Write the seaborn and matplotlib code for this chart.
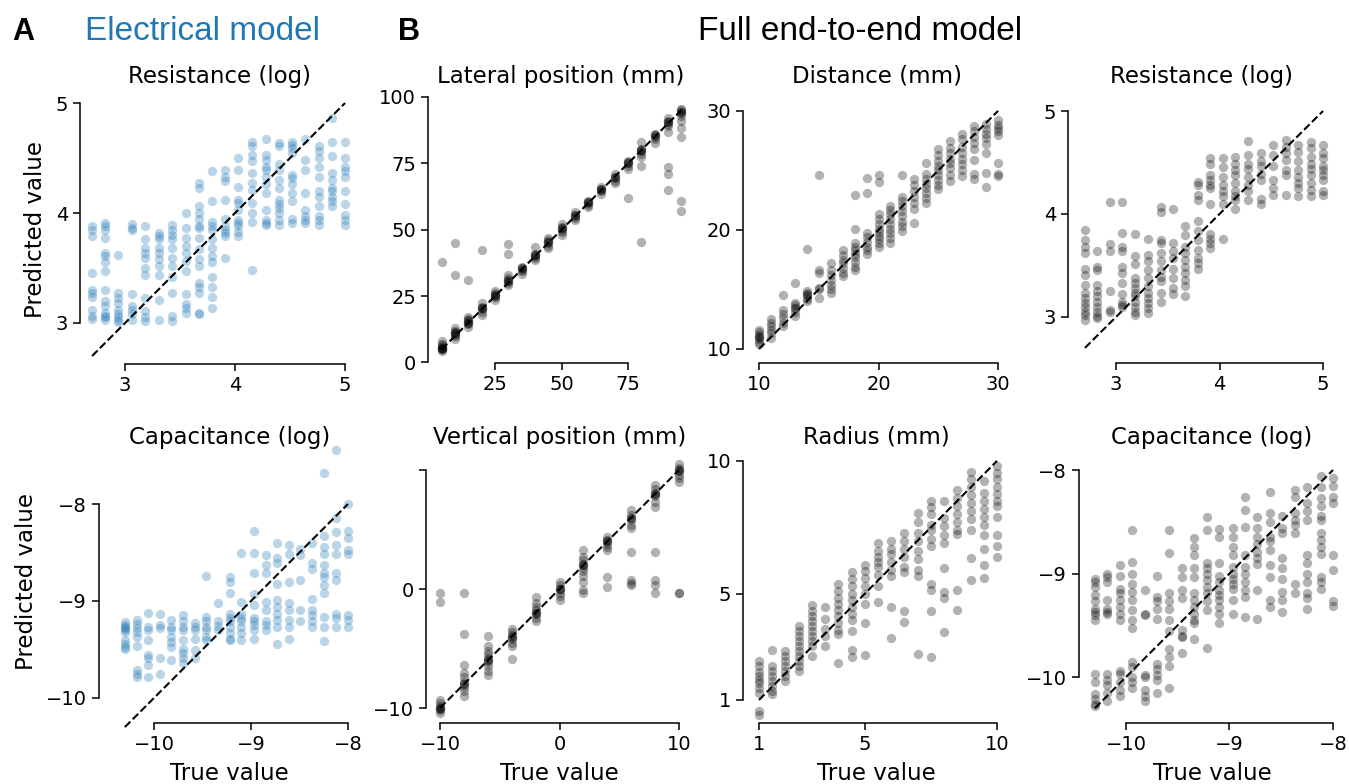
import pandas as pd
import matplotlib
matplotlib.use('Agg')
import matplotlib.pyplot as plt
import seaborn as sns

sns.set_theme(style='ticks')
plt.rcParams['font.family'] = ['DejaVu Sans']
plt.rcParams['text.color'] = 'black'
plt.rcParams['axes.labelcolor'] = 'black'
plt.rcParams['xtick.color'] = 'black'
plt.rcParams['ytick.color'] = 'black'

# ---- true values (columns of points) ----
res_true = [2.70, 2.82, 2.94, 3.06, 3.18, 3.31, 3.43, 3.55, 3.67, 3.79,
            3.91, 4.03, 4.15, 4.28, 4.40, 4.52, 4.64, 4.76, 4.88, 5.00]
cap_true = [-10.30, -10.18, -10.06, -9.94, -9.82, -9.70, -9.58, -9.46, -9.34, -9.22,
            -9.10, -8.97, -8.85, -8.73, -8.61, -8.49, -8.37, -8.25, -8.12, -8.00]
lat_true = [5, 10, 15, 20, 25, 30, 35, 40, 45, 50, 55, 60, 65, 70, 75, 80, 85, 90, 95]
dist_true = [10, 11, 12, 13, 14, 15, 16, 17, 18, 19, 20, 21, 22, 23, 24, 25, 26, 27, 28, 29, 30]
vert_true = [-10, -8, -6, -4, -2, 0, 2, 4, 6, 8, 10]
rad_true = [1, 1.5, 2, 2.5, 3, 3.5, 4, 4.5, 5, 5.5, 6, 6.5, 7, 7.5, 8, 8.5, 9, 9.5, 10]

# ---- A: electrical model predictions ----
res_elec = [
    [3.88, 3.85, 3.79, 3.45, 3.30, 3.27, 3.24, 3.12, 3.06, 3.04],
    [3.91, 3.88, 3.85, 3.77, 3.64, 3.61, 3.55, 3.47, 3.30, 3.20, 3.15, 3.09, 3.06, 3.05, 3.03],
    [3.62, 3.27, 3.23, 3.18, 3.12, 3.08, 3.05, 3.03, 3.01],
    [3.90, 3.86, 3.85, 3.26, 3.15, 3.12, 3.08, 3.03],
    [3.88, 3.76, 3.68, 3.64, 3.59, 3.50, 3.44, 3.23, 3.11, 3.05, 3.02],
    [3.82, 3.79, 3.76, 3.68, 3.64, 3.58, 3.52, 3.44, 3.21, 3.03],
    [3.89, 3.85, 3.80, 3.76, 3.68, 3.59, 3.52, 3.42, 3.27, 3.06, 3.02],
    [4.00, 3.86, 3.77, 3.70, 3.64, 3.56, 3.47, 3.26, 3.17, 3.14, 3.09],
    [4.27, 4.23, 4.06, 4.00, 3.95, 3.88, 3.86, 3.77, 3.67, 3.58, 3.52, 3.36, 3.33, 3.27, 3.09, 3.08],
    [4.38, 4.11, 3.92, 3.88, 3.85, 3.76, 3.68, 3.61, 3.55, 3.42, 3.33, 3.24, 3.14],
    [4.39, 4.33, 4.29, 4.12, 3.95, 3.88, 3.85, 3.82, 3.79, 3.59],
    [4.50, 4.39, 4.24, 4.12, 4.09, 4.03, 3.94, 3.91, 3.88, 3.83, 3.79],
    [4.65, 4.61, 4.53, 4.47, 4.36, 4.27, 4.21, 4.09, 4.00, 3.92, 3.48],
    [4.67, 4.53, 4.48, 4.42, 4.39, 4.33, 4.26, 4.18, 4.03, 3.94, 3.91, 3.89],
    [4.64, 4.61, 4.45, 4.39, 4.30, 4.23, 4.12, 4.08, 4.05, 4.00, 3.94, 3.89],
    [4.65, 4.62, 4.59, 4.55, 4.35, 4.32, 4.26, 4.18, 4.11, 3.95, 3.91],
    [4.67, 4.48, 4.39, 4.18, 4.03, 3.97, 3.94, 3.91],
    [4.61, 4.56, 4.50, 4.42, 4.33, 4.20, 4.15, 4.06, 3.97, 3.94, 3.89],
    [4.86, 4.65, 4.52, 4.36, 4.30, 4.23, 4.20, 4.15, 4.11, 4.06],
    [4.65, 4.50, 4.42, 4.38, 4.33, 4.20, 4.08, 3.98, 3.94, 3.89],
]
cap_elec = [
    [-9.22, -9.25, -9.27, -9.28, -9.30, -9.32, -9.40, -9.44, -9.47, -9.50],
    [-9.20, -9.24, -9.28, -9.32, -9.37, -9.46, -9.71, -9.75, -9.78],
    [-9.12, -9.27, -9.30, -9.40, -9.56, -9.59, -9.66, -9.78],
    [-9.13, -9.25, -9.28, -9.59, -9.75],
    [-9.20, -9.27, -9.30, -9.37, -9.42, -9.47, -9.61],
    [-9.14, -9.21, -9.27, -9.30, -9.40, -9.49, -9.54, -9.59, -9.64],
    [-9.23, -9.27, -9.30, -9.39, -9.51, -9.59],
    [-8.74, -9.16, -9.21, -9.27, -9.30, -9.37, -9.40],
    [-9.02, -9.21, -9.26, -9.30],
    [-8.75, -8.80, -8.92, -9.13, -9.18, -9.21, -9.27, -9.33, -9.39, -9.40],
    [-8.50, -9.01, -9.13, -9.18, -9.21, -9.27, -9.33, -9.40],
    [-8.28, -8.51, -8.71, -8.93, -9.04, -9.18, -9.21, -9.25, -9.30, -9.39],
    [-8.53, -8.63, -8.71, -9.01, -9.09, -9.21, -9.25, -9.30],
    [-8.40, -8.56, -8.61, -8.82, -8.99, -9.06, -9.13, -9.20, -9.27, -9.44],
    [-8.42, -8.52, -8.80, -9.02, -9.09, -9.20, -9.27, -9.39],
    [-8.46, -8.53, -8.78, -9.09, -9.21],
    [-8.40, -8.61, -8.67, -8.98, -9.09, -9.14, -9.21, -9.27],
    [-7.68, -8.33, -8.44, -8.52, -8.63, -8.71, -8.75, -8.83, -8.92, -9.16, -9.27, -9.41],
    [-7.44, -8.14, -8.29, -8.42, -8.52, -8.71, -8.78, -9.13, -9.18, -9.27],
    [-8.00, -8.28, -8.35, -8.47, -8.52, -9.14, -9.20, -9.27],
]

# ---- B: full end-to-end model predictions ----
lat_full = [
    [4.5, 5, 5, 5, 5.5, 5.5, 6, 6.5, 7, 8, 38],
    [9, 10, 10.5, 11, 11, 11.5, 12, 13, 33, 45],
    [13.5, 14.5, 15, 15, 15.5, 16, 16.5, 17, 31],
    [18, 19, 20, 20.5, 20.5, 21, 22.5, 42.5],
    [23.5, 24.5, 25, 25.5, 25.5, 26, 27],
    [29, 30, 30.5, 30.5, 31, 32, 33, 41, 44.5],
    [33.5, 34.5, 35, 35.5, 35.5, 36],
    [38.5, 39.5, 40, 40.5, 40.5, 41, 43.5],
    [43, 44, 45, 45.5, 45.5, 46, 47],
    [48, 49, 50, 50.5, 50.5, 51, 52],
    [53.5, 54.5, 55, 55.5, 55.5, 56.5],
    [58.5, 59.5, 60, 60.5, 60.5, 61],
    [63.5, 64.5, 65, 65.5, 65.5, 66],
    [67.5, 68.5, 69.5, 70, 70, 71],
    [62, 73, 74, 75, 75, 75.5, 76],
    [45.5, 74, 77.5, 78.5, 79.5, 80, 80, 80.5, 83],
    [82.5, 84, 85, 85.5, 85.5, 86],
    [65, 71, 73.5, 87, 89, 90, 90.5, 90.5, 91, 92],
    [57, 61, 85, 88.5, 91, 93, 94, 94.5, 94.5, 95, 95.5],
]
dist_full = [
    [10.4, 10.6, 10.8, 11.0, 11.0, 11.2, 11.4, 11.6],
    [10.9, 11.3, 11.6, 11.9, 12.2, 12.5],
    [11.9, 12.2, 12.6, 12.9, 13.3, 14.5],
    [12.8, 13.1, 13.4, 13.4, 13.7, 13.9, 15.5],
    [14.0, 14.2, 14.5, 14.5, 14.7, 14.9, 18.4],
    [14.3, 15.0, 15.1, 16.4, 16.6, 24.6],
    [14.7, 15.0, 15.4, 15.8, 16.2, 16.6, 17.2],
    [16.1, 16.4, 16.8, 17.2, 17.5, 17.9, 18.3],
    [16.6, 16.9, 17.3, 17.7, 18.0, 18.3, 18.6, 18.9, 20.1, 22.9],
    [18.0, 18.3, 18.6, 19.0, 19.4, 19.7, 23.1, 24.4],
    [18.6, 18.9, 19.2, 19.5, 19.8, 20.1, 20.5, 20.9, 21.3, 24.0, 24.6],
    [18.9, 19.3, 19.7, 20.1, 20.5, 20.9, 21.3, 21.7, 22.0],
    [19.9, 20.3, 20.7, 21.2, 21.6, 22.0, 22.4, 22.8, 24.6],
    [20.6, 21.8, 22.3, 22.8, 23.3, 23.8, 24.3],
    [22.3, 22.7, 23.1, 23.5, 23.9, 24.3, 24.7, 25.6],
    [23.4, 23.8, 24.2, 24.6, 25.0, 25.4, 25.8, 26.3, 26.8],
    [24.1, 24.6, 25.2, 25.6, 26.0, 26.5, 26.9, 27.5],
    [24.5, 25.0, 25.5, 26.0, 26.5, 27.0, 27.6, 28.1],
    [24.3, 24.7, 25.9, 26.8, 27.3, 27.8, 28.3, 28.7],
    [23.6, 24.8, 26.5, 27.2, 27.7, 28.1, 28.5, 28.9],
    [24.5, 24.7, 25.6, 28.0, 28.3, 28.6, 28.8, 29.2],
]
res_full = [
    [3.84, 3.75, 3.68, 3.62, 3.47, 3.41, 3.31, 3.23, 3.18, 3.14, 3.10, 3.05, 3.02, 2.97],
    [3.64, 3.49, 3.46, 3.31, 3.25, 3.20, 3.15, 3.10, 3.05, 3.01, 2.99],
    [4.12, 3.71, 3.64, 3.25, 3.07, 3.05],
    [4.12, 3.82, 3.68, 3.64, 3.49, 3.43, 3.33, 3.22, 3.15, 3.12, 3.10],
    [3.81, 3.59, 3.51, 3.38, 3.33, 3.28, 3.23, 3.20, 3.15, 3.10, 3.05, 3.02],
    [3.76, 3.60, 3.54, 3.46, 3.38, 3.30, 3.23, 3.18, 3.14, 3.09, 3.04],
    [4.07, 4.02, 3.75, 3.72, 3.62, 3.54, 3.46, 3.39, 3.35, 3.23, 3.15],
    [4.05, 3.72, 3.64, 3.57, 3.47, 3.38, 3.28, 3.22],
    [3.88, 3.80, 3.68, 3.62, 3.55, 3.49, 3.43, 3.36, 3.30, 3.20],
    [4.31, 4.28, 4.18, 4.14, 3.93, 3.83, 3.75, 3.65, 3.57, 3.52, 3.47],
    [4.54, 4.49, 4.38, 4.33, 4.28, 4.25, 4.10, 3.81, 3.76, 3.72, 3.67],
    [4.54, 4.46, 4.36, 4.28, 4.22, 4.17, 4.10, 3.76],
    [4.55, 4.49, 4.43, 4.38, 4.30, 4.22, 4.17, 4.14, 4.05],
    [4.71, 4.57, 4.49, 4.44, 4.36, 4.28, 4.22, 4.14],
    [4.59, 4.51, 4.47, 4.39, 4.33, 4.15, 4.10],
    [4.67, 4.57, 4.47, 4.33, 4.25, 4.18],
    [4.72, 4.65, 4.59, 4.52, 4.43, 4.38, 4.18],
    [4.67, 4.60, 4.51, 4.43, 4.36, 4.30, 4.25, 4.17],
    [4.70, 4.64, 4.55, 4.49, 4.44, 4.38, 4.30, 4.23, 4.17],
    [4.67, 4.59, 4.54, 4.47, 4.43, 4.38, 4.33, 4.22, 4.18],
]
vert_full = [
    [-10.4, -10.2, -10.1, -10.0, -10.0, -9.8, -9.6, -9.3, -1.06, -0.36],
    [-9.0, -8.6, -8.2, -8.0, -8.0, -7.8, -7.4, -7.1, -6.37, -3.77, -0.3],
    [-7.2, -6.9, -6.5, -6.1, -6.0, -6.0, -5.8, -5.5, -5.25, -4.8, -3.94],
    [-4.8, -4.5, -4.2, -4.0, -4.0, -3.9, -3.6, -3.38, -5.89],
    [-2.7, -2.4, -2.1, -2.0, -2.0, -1.8, -1.5, -1.2, -0.64],
    [-0.9, -0.6, -0.3, 0.0, 0.0, 0.0, 0.3, 0.6],
    [3.3, 2.7, 2.4, 2.1, 2.0, 2.0, 1.8, 1.5, 1.1, 0.6, -0.1, -0.36],
    [4.4, 4.1, 4.0, 4.0, 3.8, 3.5, 3.3, 0.98, 0.2],
    [6.6, 6.2, 6.0, 6.0, 5.8, 5.4, 5.1, 3.07, 0.75, 0.47, 0.34],
    [8.7, 8.4, 8.1, 8.0, 8.0, 7.8, 7.3, 6.9, 3.13, 0.75, 0.34, -0.3],
    [10.5, 10.2, 10.0, 10.0, 9.9, 9.6, 9.3, 9.0, -0.3, -0.3],
]
rad_full = [
    [2.46, 2.27, 2.05, 1.90, 1.77, 1.65, 1.46, 1.27, 0.58, 0.45],
    [2.88, 2.27, 2.09, 1.90, 1.71, 1.52, 1.33, 1.21],
    [2.84, 2.65, 2.46, 2.27, 2.08, 1.90, 1.71],
    [3.78, 3.60, 3.41, 3.22, 3.03, 2.84, 2.65, 2.46, 2.27, 2.08],
    [4.56, 4.36, 4.17, 3.98, 3.78, 3.59, 3.40, 3.21, 3.02, 2.65],
    [4.51, 4.03, 3.66, 3.40, 3.03],
    [5.35, 5.10, 4.85, 4.60, 4.40, 4.15, 3.90, 3.65, 3.50, 2.40],
    [5.80, 5.55, 5.30, 5.00, 4.75, 4.50, 4.25, 4.00, 3.60, 2.90, 2.60],
    [6.10, 5.85, 5.60, 5.30, 5.00, 4.60, 3.90, 2.70],
    [6.90, 6.60, 6.40, 6.20, 6.00, 5.70, 5.30, 4.70],
    [7.00, 6.70, 6.50, 6.20, 5.90, 5.65, 4.50, 3.35],
    [7.30, 7.00, 6.70, 6.40, 6.00, 5.80, 4.35, 3.95],
    [8.05, 7.70, 7.30, 7.00, 6.60, 6.30, 5.90, 5.65, 2.75],
    [8.50, 8.25, 8.00, 7.60, 7.40, 7.05, 6.80, 5.35, 5.15, 4.35, 2.60],
    [8.50, 7.85, 7.55, 7.20, 6.90, 5.98, 5.05, 4.85, 3.55],
    [8.90, 8.60, 8.30, 8.00, 7.70, 7.40, 7.25, 5.15, 4.40],
    [9.60, 9.30, 9.00, 8.70, 8.40, 8.10, 7.80, 7.40, 6.35, 5.50],
    [9.25, 8.80, 8.50, 8.20, 7.90, 7.60, 7.20, 6.70, 6.10, 5.60],
    [9.80, 9.55, 9.30, 9.00, 8.75, 8.50, 8.30, 7.90, 7.20, 6.80, 6.40],
]
cap_full = [
    [-9.05, -9.08, -9.13, -9.21, -9.27, -9.34, -9.37, -9.40, -9.45, -9.97, -10.05, -10.16, -10.21, -10.26, -10.28],
    [-9.00, -9.03, -9.08, -9.26, -9.34, -9.37, -9.39, -9.97, -10.03, -10.08, -10.15, -10.23],
    [-8.92, -9.02, -9.15, -9.19, -9.26, -9.32, -9.39, -9.45, -9.94, -9.97, -10.05, -10.13, -10.18],
    [-8.58, -8.89, -9.00, -9.10, -9.18, -9.26, -9.35, -9.45, -9.53, -9.85, -9.90, -10.00, -10.05, -10.11],
    [-9.16, -9.39, -9.40, -9.98, -10.00, -10.13, -10.18, -10.23],
    [-9.02, -9.23, -9.27, -9.34, -9.44, -9.87, -9.92, -9.98, -10.03, -10.15],
    [-8.58, -8.80, -9.19, -9.27, -9.34, -9.45, -9.56, -9.73, -9.81, -9.89, -10.11],
    [-8.95, -9.03, -9.16, -9.24, -9.55, -9.60, -9.61, -9.77],
    [-8.66, -8.74, -8.82, -8.95, -9.03, -9.19, -9.26, -9.32, -9.39, -9.45, -9.48, -9.63],
    [-8.45, -8.58, -8.90, -8.95, -9.00, -9.06, -9.13, -9.19, -9.27, -9.35, -9.72],
    [-8.57, -8.65, -8.90, -9.02, -9.08, -9.16, -9.21, -9.26, -9.32, -9.39, -9.48],
    [-8.56, -8.65, -8.74, -8.82, -8.94, -9.00, -9.05, -9.10, -9.15, -9.26, -9.39],
    [-8.26, -8.39, -8.55, -8.82, -8.94, -9.00, -9.08, -9.16, -9.23, -9.42],
    [-8.45, -8.56, -8.65, -8.71, -8.79, -8.85, -8.91, -9.16, -9.44],
    [-8.21, -8.42, -8.50, -8.65, -8.69, -8.77, -8.92, -9.03, -9.26, -9.32],
    [-8.44, -8.56, -8.61, -8.85, -8.95, -9.05, -9.18, -9.26, -9.37],
    [-8.19, -8.26, -8.42, -8.48, -8.53, -8.61, -9.10, -9.19],
    [-8.16, -8.32, -8.40, -8.48, -8.82, -8.90, -9.00, -9.08, -9.19, -9.24, -9.34],
    [-8.06, -8.16, -8.27, -8.35, -8.44, -8.48, -8.61, -8.68, -8.74, -8.81, -9.03, -9.08, -9.15],
    [-8.08, -8.15, -8.26, -8.32, -8.82, -8.97, -9.27, -9.31],
]

titles = ['Resistance (log)', 'Lateral position (mm)', 'Distance (mm)', 'Resistance (log)',
          'Capacitance (log)', 'Vertical position (mm)', 'Radius (mm)', 'Capacitance (log)']
blue = '#1f77b4'


def to_frame(true_vals, pred_vals):
    rows = [(t, p) for t, ps in zip(true_vals, pred_vals) for p in ps]
    return pd.DataFrame(rows, columns=['true', 'pred'])


W, H = 1349, 784
fig = plt.figure(figsize=(W / 100, H / 100), dpi=100)


def add_ax(left, right, top, bottom):
    # box given in pixels from the top-left corner
    return fig.add_axes([left / W, 1 - bottom / H, (right - left) / W, (bottom - top) / H])


# panel: (true, pred, colour, box px, xlim, ylim, xticks, yticks, ytick labels)
panels = [
    (res_true, res_elec, blue, (80, 358, 95, 364), (2.59, 5.118), (2.627, 5.073), [3, 4, 5], [3, 4, 5], None),
    (lat_true, lat_full, 'black', (428, 693, 95, 363), (-0.19, 99.4), (-0.2, 100.75), [25, 50, 75], [0, 25, 50, 75, 100], None),
    (dist_true, dist_full, 'black', (743, 1010, 99, 363), (8.66, 31.0), (8.82, 31.0), [10, 20, 30], [10, 20, 30], None),
    (res_true, res_full, 'black', (1068, 1335, 97, 363), (2.536, 5.116), (2.553, 5.136), [3, 4, 5], [3, 4, 5], None),
    (cap_true, cap_elec, blue, (99, 360, 440, 723), (-10.567, -7.876), (-10.258, -7.34), [-10, -9, -8], [-10, -9, -8], None),
    (vert_true, vert_full, 'black', (426, 693, 460, 723), (-11.17, 11.17), (-11.26, 10.84), [-10, 0, 10], [-10, 0, 10], ['\u221210', '0', '']),
    (rad_true, rad_full, 'black', (743, 1010, 450, 723), (0.395, 10.49), (0.134, 10.41), [1, 5, 10], [1, 5, 10], None),
    (cap_true, cap_full, 'black', (1079, 1345, 455, 723), (-10.454, -7.884), (-10.444, -7.855), [-10, -9, -8], [-10, -9, -8], None),
]

title_y = [76, 76, 76, 76, 437, 437, 437, 437]

for i, (tv, pv, col, box, xl, yl, xt, yt, ytl) in enumerate(panels):
    ax = add_ax(*box)
    df = to_frame(tv, pv)
    sns.scatterplot(data=df, x='true', y='pred', ax=ax, color=col, alpha=0.3,
                    s=45, linewidth=0, legend=False)
    lo, hi = min(tv), max(tv)
    ax.plot([lo, hi], [lo, hi], color='black', linestyle='--', linewidth=1.5, clip_on=False)
    ax.set_xlim(*xl)
    ax.set_ylim(*yl)
    ax.set_xticks(xt)
    ax.set_yticks(yt)
    sns.despine(ax=ax, trim=True)
    if ytl is not None:
        ax.set_yticklabels(ytl)
    ax.tick_params(labelsize=14, length=5, width=1.1, colors='black')
    for sp in ['left', 'bottom']:
        ax.spines[sp].set_linewidth(1.1)
        ax.spines[sp].set_color('black')
    ax.set_xlabel('')
    ax.set_ylabel('')
    if i % 4 == 0:
        ax.set_ylabel('Predicted value', fontsize=16.5, labelpad=6)
    if i >= 4:
        ax.set_xlabel('True value', fontsize=16.5, labelpad=6)
    cx = (box[0] + box[1]) / 2 / W
    fig.text(cx, 1 - title_y[i] / H, titles[i], ha='center', va='center', fontsize=16.5)

head = ['Liberation Sans', 'DejaVu Sans']
fig.text(12 / W, 1 - 32 / H, 'A', fontsize=22, fontweight='bold', family=head, va='center', ha='left')
fig.text(85 / W, 1 - 32 / H, 'Electrical model', fontsize=24, color=blue, family=head, va='center', ha='left')
fig.text(398 / W, 1 - 32 / H, 'B', fontsize=22, fontweight='bold', family=head, va='center', ha='left')
fig.text(860 / W, 1 - 32 / H, 'Full end-to-end model', fontsize=24, family=head, va='center', ha='center')

fig.savefig('out.png', dpi=100)
